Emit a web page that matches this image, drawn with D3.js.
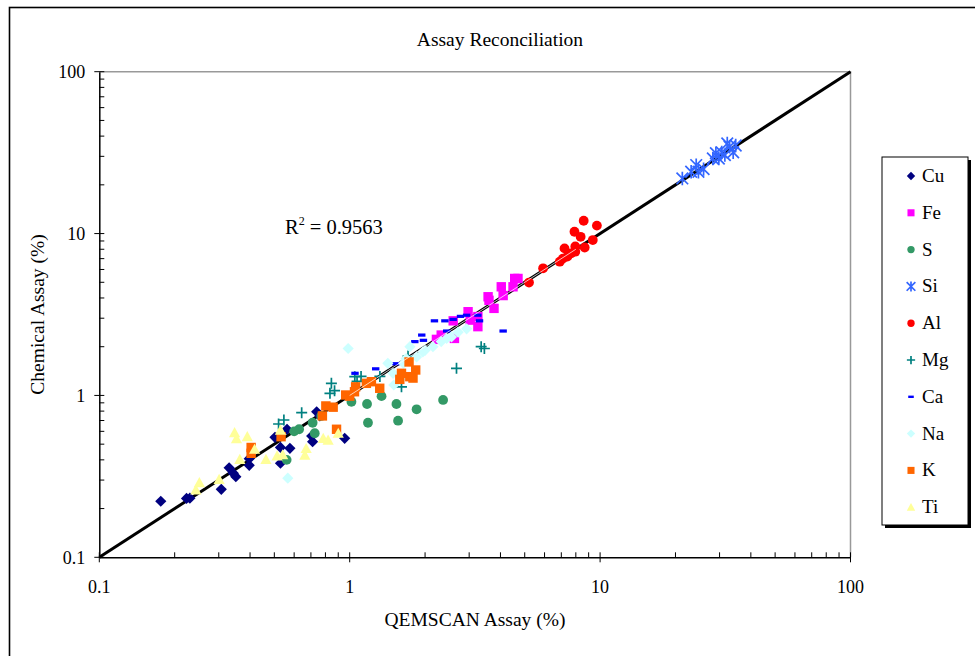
<!DOCTYPE html>
<html><head><meta charset="utf-8">
<script src="https://cdn.jsdelivr.net/npm/d3@7/dist/d3.min.js"></script>
<style>body{margin:0;background:#fff}svg{display:block}</style>
</head><body><svg id="c" width="975" height="656" style="font-family:'Liberation Serif','Times New Roman',Times,serif"></svg>
<script>
const title = "Assay Reconciliation";
const xLabel = "QEMSCAN Assay (%)";
const yLabel = "Chemical Assay (%)";
const tickValues = [0.1, 1, 10, 100];
const tickLabels = ["0.1", "1", "10", "100"];
const seriesNames = ["Cu","Fe","S","Si","Al","Mg","Ca","Na","K","Ti"];
const seriesColors = ["#000080","#FF00FF","#339966","#3366FF","#FF0000","#008080","#0000FF","#CCFFFF","#FF6600","#FFFF99"];
const seriesShapes = ["diamond","square","circle","asterisk","circle","plus","dash","diamond","square","triangle"];
const rSquaredLabel = "0.9563";

const Cu = [[0.176,0.222],[0.223,0.231],[0.230,0.232],[0.307,0.263],[0.330,0.357],[0.343,0.330],[0.351,0.315],[0.397,0.370],[0.397,0.407],[0.503,0.551],[0.529,0.477],[0.529,0.381],[0.562,0.618],[0.577,0.471],[0.738,0.793],[0.760,0.747],[0.705,0.561],[0.711,0.518],[0.955,0.543]];
const Fe = [[2.22,2.22],[2.32,2.36],[2.59,2.89],[2.62,2.25],[2.97,3.29],[3.03,2.92],[3.25,2.66],[3.25,3.07],[3.57,4.07],[3.6,3.87],[3.77,3.45],[4.03,4.69],[4.1,4.14],[4.49,4.69],[4.56,5.28],[4.70,5.28]];
const S = [[0.56,0.40],[0.628,0.618],[0.711,0.678],[0.725,0.584],[0.77,0.747],[1.016,0.914],[1.173,0.885],[1.34,0.99],[1.183,0.678],[1.537,0.885],[1.56,0.698],[1.85,0.821],[2.36,0.938],[0.60,0.60]];
const Si = [[21.3,21.9],[23.1,24.1],[24.2,26.5],[24.7,24.1],[25.9,25.0],[28.2,29.1],[29.0,31.4],[29.8,29.1],[30.6,31.7],[32.9,34.4],[34.0,31.8],[34.8,35.0],[32.2,36.0],[31.5,30.5]];
const Al = [[5.2,4.98],[5.92,6.1],[6.9,6.7],[7.1,7.0],[7.21,8.1],[7.67,7.55],[7.96,7.73],[7.96,8.32],[7.9,10.26],[8.36,9.55],[8.6,12.0],[8.68,8.2],[9.35,9.12],[9.71,11.2],[7.4,7.2]];
const Mg = [[0.520,0.666],[0.546,0.705],[0.643,0.782],[0.845,1.188],[0.834,1.03],[0.87,1.07],[1.048,1.306],[1.07,1.22],[1.11,1.31],[1.32,1.31],[1.61,1.13],[1.71,1.75],[2.67,1.47],[3.35,2.0],[3.45,1.95]];
const Ca = [[1.05,1.37],[1.27,1.46],[1.53,1.57],[1.82,2.15],[1.94,2.36],[1.97,2.19],[2.18,2.89],[2.4,2.89],[2.59,2.95],[2.77,3.08],[2.93,3.13],[3.25,3.13],[3.3,2.89],[2.44,2.5],[4.1,2.5]];
const Na = [[0.566,0.308],[0.986,1.95],[1.42,1.58],[1.49,1.37],[1.50,1.16],[1.61,1.29],[1.64,1.58],[1.68,1.69],[1.74,2.0],[1.85,1.73],[1.96,1.86],[2.0,1.9],[2.15,2.0],[2.32,2.15],[2.44,2.25],[2.55,2.3],[2.71,2.46],[2.93,2.58]];
const K = [[0.404,0.477],[0.404,0.439],[0.532,0.556],[0.778,0.747],[0.803,0.861],[0.859,0.846],[0.886,0.618],[0.964,1.006],[1.0,0.99],[1.045,1.054],[1.056,1.13],[1.166,1.188],[1.221,1.216],[1.318,1.107],[1.585,1.257],[1.61,1.37],[1.726,1.61],[1.738,1.306],[1.835,1.436],[1.79,1.28]];
const Ti = [[0.243,0.261],[0.251,0.289],[0.301,0.303],[0.347,0.589],[0.353,0.541],[0.390,0.556],[0.364,0.403],[0.417,0.465],[0.463,0.403],[0.513,0.423],[0.529,0.611],[0.54,0.43],[0.662,0.428],[0.67,0.47],[0.784,0.543],[0.82,0.53],[0.90,0.584]];
const seriesData = [Cu,Fe,S,Si,Al,Mg,Ca,Na,K,Ti];
const identityLine = [[0.1,0.1],[100,100]];
const trendLine = [[1,1],[8,8]];

const FONT = "'Liberation Serif','Times New Roman',Times,serif";
const svg = d3.select("#c");
const X0 = 99.3, X1 = 850.5, Y0 = 557.3, Y1 = 71.7;
const x = d3.scaleLog().domain([0.1,100]).range([X0,X1]);
const y = d3.scaleLog().domain([0.1,100]).range([Y0,Y1]);
function txt(sel){ return sel.attr("font-family",FONT).style("font-family",FONT).attr("fill","#000"); }

// outer border
svg.append("rect").attr("x",9.5).attr("y",7.5).attr("width",1000).attr("height",700)
  .attr("fill","none").attr("stroke","#000").attr("stroke-width",1.6);

txt(svg.append("text")).attr("x",500).attr("y",46).attr("text-anchor","middle")
  .style("font-size","19.5px").text(title);

// plot frame (top/right gray)
svg.append("path").attr("d",`M${X0},${Y1}H${X1}V${Y0}`).attr("fill","none")
  .attr("stroke","#999").attr("stroke-width",1.5);

// minor ticks
const minor = [];
for (let d=0.1; d<100; d*=10) for (let k=2;k<=9;k++) minor.push(+(d*k).toPrecision(3));

const gx = svg.append("g").attr("transform",`translate(0,${Y0})`);
gx.call(d3.axisBottom(x).tickValues(minor).tickSize(0).tickFormat(""));
gx.selectAll(".tick").remove();
gx.select(".domain").attr("stroke","#000").attr("stroke-width",1.5);
gx.selectAll(".minor").data(minor).join("line").attr("x1",d=>x(d)).attr("x2",d=>x(d))
  .attr("y1",0).attr("y2",-5).attr("stroke","#000").attr("stroke-width",1);
gx.selectAll(".major").data(tickValues).join("line").attr("x1",d=>x(d)).attr("x2",d=>x(d))
  .attr("y1",-5).attr("y2",5).attr("stroke","#000").attr("stroke-width",1);
txt(gx.selectAll(".lbl").data(tickValues).join("text")).attr("x",d=>x(d)).attr("y",36)
  .attr("text-anchor","middle").style("font-size","18px").text((d,i)=>tickLabels[i]);

const gy = svg.append("g").attr("transform",`translate(${X0},0)`);
gy.call(d3.axisLeft(y).tickValues(minor).tickSize(0).tickFormat(""));
gy.selectAll(".tick").remove();
gy.select(".domain").attr("stroke","#000").attr("stroke-width",1.5);
gy.selectAll(".minor").data(minor).join("line").attr("y1",d=>y(d)).attr("y2",d=>y(d))
  .attr("x1",0).attr("x2",5).attr("stroke","#000").attr("stroke-width",1);
gy.selectAll(".major").data(tickValues).join("line").attr("y1",d=>y(d)).attr("y2",d=>y(d))
  .attr("x1",-5).attr("x2",5).attr("stroke","#000").attr("stroke-width",1);
txt(gy.selectAll(".lbl").data(tickValues).join("text")).attr("x",-14).attr("y",d=>y(d)+6.5)
  .attr("text-anchor","end").style("font-size","18px").text((d,i)=>tickLabels[i]);

txt(svg.append("text")).attr("x",475).attr("y",626).attr("text-anchor","middle")
  .style("font-size","19.5px").text(xLabel);
txt(svg.append("text")).attr("transform",`translate(44,${(Y0+Y1)/2}) rotate(-90)`)
  .attr("text-anchor","middle").style("font-size","19.5px").text(yLabel);

const line = d3.line().x(d=>x(d[0])).y(d=>y(d[1]));
svg.append("path").attr("d",line(identityLine)).attr("stroke","#000").attr("stroke-width",3).attr("fill","none");

function marker(g, shape, color, s) {
  switch(shape) {
    case "diamond": return g.append("path").attr("d",`M0,${-5.6*s}L${5.6*s},0L0,${5.6*s}L${-5.6*s},0Z`).attr("fill",color);
    case "square": return g.append("rect").attr("x",-4.7*s).attr("y",-4.7*s).attr("width",9.4*s).attr("height",9.4*s).attr("fill",color);
    case "circle": return g.append("circle").attr("r",4.9*s).attr("fill",color);
    case "triangle": return g.append("path").attr("d",`M0,${-5.6*s}L${5.6*s},${4.6*s}L${-5.6*s},${4.6*s}Z`).attr("fill",color);
    case "dash": return g.append("rect").attr("x",-3.7*s).attr("y",-1.6*s).attr("width",7.4*s).attr("height",3.2*s).attr("fill",color);
    case "plus": return g.append("path").attr("d",`M${-5.5*s},0H${5.5*s}M0,${-5.5*s}V${5.5*s}`).attr("stroke",color).attr("stroke-width",1.7).attr("fill","none");
    case "asterisk": {
      const a=5.8*s;
      return g.append("path").attr("d",`M${-a},${-a}L${a},${a}M${-a},${a}L${a},${-a}M0,${-a*1.15}V${a*1.15}`).attr("stroke",color).attr("stroke-width",1.7).attr("fill","none");
    }
  }
}

seriesData.forEach((data,i)=>{
  const g = svg.append("g").attr("class","series-"+seriesNames[i]);
  g.selectAll("g").data(data).join("g").attr("transform",d=>`translate(${x(d[0])},${y(d[1])})`)
    .each(function(){ marker(d3.select(this), seriesShapes[i], seriesColors[i], 1); });
});

svg.append("path").attr("d",line(trendLine)).attr("stroke","#fff").attr("stroke-width",0.8).attr("fill","none").attr("opacity",0.9);

// R^2 label
const rt = txt(svg.append("text")).attr("x",285).attr("y",234).style("font-size","20.5px");
rt.append("tspan").text("R");
rt.append("tspan").attr("dy",-9).style("font-size","12px").text("2");
rt.append("tspan").attr("dy",9).text(" = " + rSquaredLabel);

// legend
const LX=882, LY=157, LW=86, LH=368;
svg.append("rect").attr("x",LX+3).attr("y",LY+3).attr("width",LW).attr("height",LH).attr("fill","#000");
svg.append("rect").attr("x",LX).attr("y",LY).attr("width",LW).attr("height",LH).attr("fill","#fff").attr("stroke","#000").attr("stroke-width",1);
seriesNames.forEach((n,i)=>{
  const cy = 176 + i*36.8;
  const g = svg.append("g").attr("transform",`translate(911,${cy})`);
  marker(g, seriesShapes[i], seriesColors[i], 0.75);
  txt(svg.append("text")).attr("x",922).attr("y",cy+6).style("font-size","19px").text(n);
});
</script></body></html>
